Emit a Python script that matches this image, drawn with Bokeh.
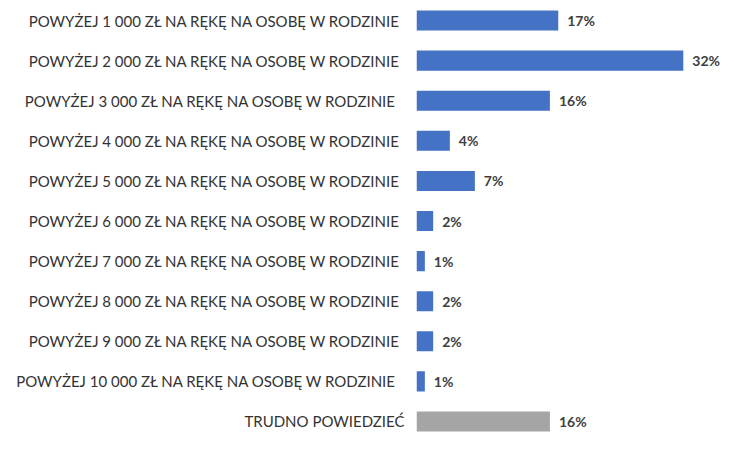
from bokeh.plotting import figure
from bokeh.models import Range1d, FixedTicker, ColumnDataSource
from bokeh.core.properties import value
from bokeh.embed import file_html
from bokeh.resources import INLINE

categories = [
    "POWYŻEJ 1 000 ZŁ NA RĘKĘ NA OSOBĘ  W RODZINIE",
    "POWYŻEJ 2 000 ZŁ NA RĘKĘ NA OSOBĘ  W RODZINIE",
    "POWYŻEJ 3 000  ZŁ NA RĘKĘ NA OSOBĘ  W RODZINIE",
    "POWYŻEJ 4 000 ZŁ NA RĘKĘ NA OSOBĘ  W RODZINIE",
    "POWYŻEJ 5 000 ZŁ NA RĘKĘ NA OSOBĘ  W RODZINIE",
    "POWYŻEJ 6 000 ZŁ NA RĘKĘ NA OSOBĘ  W RODZINIE",
    "POWYŻEJ 7 000 ZŁ NA RĘKĘ NA OSOBĘ  W RODZINIE",
    "POWYŻEJ 8 000 ZŁ NA RĘKĘ NA OSOBĘ  W RODZINIE",
    "POWYŻEJ 9 000 ZŁ NA RĘKĘ NA OSOBĘ  W RODZINIE",
    "POWYŻEJ 10  000 ZŁ NA RĘKĘ NA OSOBĘ  W RODZINIE",
    "TRUDNO POWIEDZIEĆ",
]
values = [17, 32, 16, 4, 7, 2, 1, 2, 2, 1, 16]
value_labels = ["17%", "32%", "16%", "4%", "7%", "2%", "1%", "2%", "2%", "1%", "16%"]
colors = ["#4472C4"] * 10 + ["#A5A5A5"]

n = len(categories)
ypos = [n - 1 - i for i in range(n)]

src = ColumnDataSource(dict(y=ypos, v=values, lab=value_labels, c=colors))

p = figure(width=722, height=433, output_backend="svg", toolbar_location=None,
           x_range=Range1d(0, 36.7), y_range=Range1d(-0.3, n - 1 + 0.5),
           min_border_left=416, min_border_right=0, min_border_top=0, min_border_bottom=0)
p.hbar(y="y", right="v", left=0, height=0.5, fill_color="c", line_color=None, source=src)
p.text(x="v", y="y", text="lab", source=src, x_offset=9, text_baseline="middle",
       text_align="left", text_font=value("Lato"), text_font_size="14px",
       text_font_style="bold", text_color="#404040")

p.yaxis.ticker = FixedTicker(ticks=ypos)
p.yaxis.major_label_overrides = {y: c for y, c in zip(ypos, categories)}
p.yaxis.major_label_text_font = "Lato"
p.yaxis.major_label_text_font_size = "15px"
p.yaxis.major_label_text_color = "#333333"
p.yaxis.major_label_standoff = 12
p.yaxis.major_tick_out = 0
p.yaxis.major_tick_in = 0
p.yaxis.axis_line_color = None
p.yaxis.major_tick_line_color = None
p.yaxis.minor_tick_line_color = None
p.xaxis.visible = False
p.xgrid.visible = False
p.ygrid.visible = False
p.outline_line_color = None

open("out.html", "w").write(file_html(p, INLINE))
